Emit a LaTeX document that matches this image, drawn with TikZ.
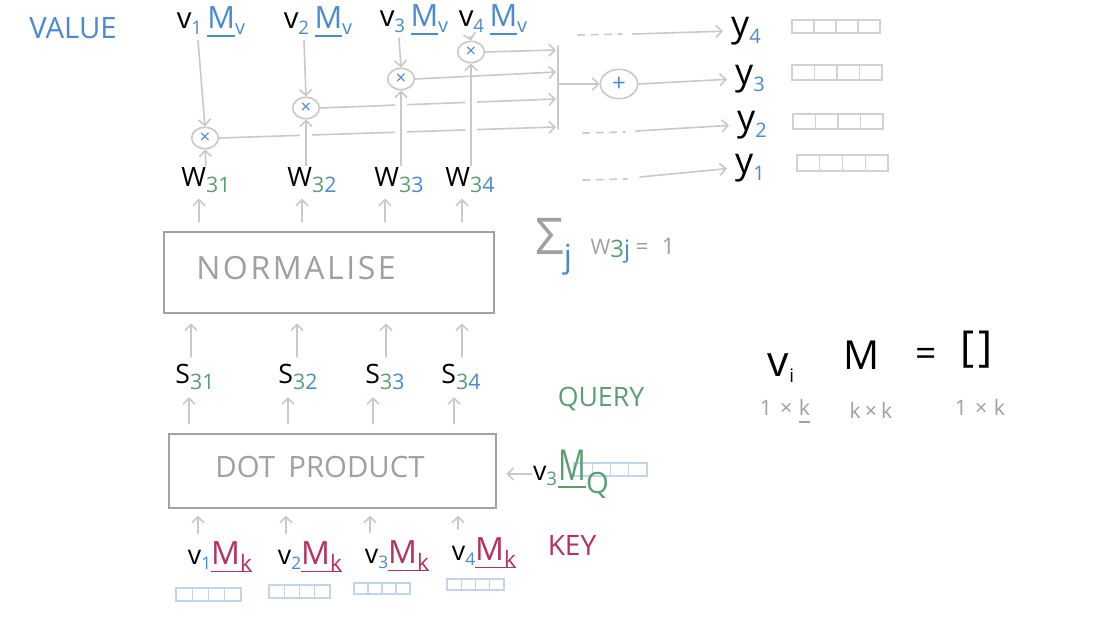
\documentclass[tikz,border=0pt]{standalone}
\usepackage{fontspec}
\setmainfont{Open Sans}
\newfontfamily\spaced[LetterSpace=8]{Open Sans}
\usetikzlibrary{arrows.meta,calc,shapes.geometric}
\definecolor{lg}{HTML}{C9C9C9}
\definecolor{bx}{HTML}{A2A2A2}
\definecolor{tb}{HTML}{4A8AD0}
\definecolor{tg}{HTML}{5A9E72}
\definecolor{tr}{HTML}{B8315D}
\definecolor{gt}{HTML}{A0A0A0}
\definecolor{cb}{HTML}{C3D5EA}
\definecolor{cg}{HTML}{D2D2D2}
\newcommand\fsz[1]{\fontsize{#1}{#1}\selectfont}
\newcommand\lsub[2]{\raisebox{-0.3em}{\color{#1}#2}}
\newcommand\ulc[1]{\setbox0\hbox{#1}\rlap{\raisebox{-6pt}{\rule{\wd0}{1.3pt}}}\box0}
\newcommand\vMv[1]{{\fsz{22}v}{\fsz{14}\lsub{tb}{#1}}\hspace{4pt}{\color{tb}\ulc{\fsz{23}M}{\fsz{15}\lsub{tb}{v}}}}
\newcommand\WS[3]{{\fsz{20}#1}{\fsz{16}\raisebox{-5pt}{\color{tg}3\color{#2}#3}}}
\newcommand\vMk[1]{{\fsz{20}v}{\fsz{13}\lsub{tb}{#1}}{\color{tr}\ulc{\fsz{24}M\fsz{17}\lsub{tr}{k}}}}
\newcommand\yl[1]{{\fsz{27}y}{\fsz{15}\raisebox{-0.35em}{\color{tb}#1}}}
\newcommand\cells[5]{%
  \draw[#5, line width=1pt] (#1,#2) rectangle ++(#3,#4);
  \foreach \k in {1,2,3} {\draw[#5, line width=1pt] (#1+#3*\k/4,#2) -- ++(0,#4);}}
\begin{document}
\begin{tikzpicture}[x=0.75pt,y=-0.75pt,
  ln/.style={draw=lg, line width=1.2pt, line cap=round},
  ar/.style={ln, -{Straight Barb[length=4.5pt,width=9pt,line width=1.2pt]}},
  gapped/.style={preaction={draw=white, line width=9pt, arrows=-, shorten <=10pt, shorten >=10pt}},
  mul/.style={ellipse, draw=lg, line width=1.2pt, minimum width=20pt, minimum height=16pt, inner sep=0pt, text=tb, font=\fsz{14}},
  blk/.style={draw=bx, line width=1.5pt, rectangle, inner sep=0pt},
  lab/.style={inner sep=1pt},
  gtxt/.style={inner sep=1pt, text=gt},
  dsh/.style={ln, dash pattern=on 5pt off 5pt},
]
\fill[white] (0,0) rectangle (1120,629);
\useasboundingbox (0,0) rectangle (1120,629);

% ---------- value row ----------
\node[lab, text=tb, font=\fsz{22}] (value) at (73,28) {VALUE};
\node[lab] (v1) at (211,22) {\vMv{1}};
\node[lab] (v2) at (318,22) {\vMv{2}};
\node[lab] (v3) at (414,20) {\vMv{3}};
\node[lab] (v4) at (493,20) {\vMv{4}};

\node[mul] (c1) at (205,138) {×};
\node[mul] (c2) at (306,108) {×};
\node[mul] (c3) at (401,79) {×};
\node[mul] (c4) at (471,52) {×};

\node[lab] (w1) at (206,180) {\WS{W}{tg}{1}};
\node[lab] (w2) at (312,180) {\WS{W}{tb}{2}};
\node[lab] (w3) at (399,180) {\WS{W}{tb}{3}};
\node[lab] (w4) at (470,180) {\WS{W}{tb}{4}};

\coordinate (b1) at (556,127);
\coordinate (b2) at (556,99);
\coordinate (b3) at (556,72);
\coordinate (b4) at (556,50);
\coordinate (btop) at (558,46);
\coordinate (bbot) at (558,129);
\coordinate (bmid) at (558,84);

\draw[ar] (c1.east) -- (b1);
\draw[ar] (c2.east) -- (b2);
\draw[ar] (c3.east) -- (b3);
\draw[ar] (c4.east) -- (b4);
\draw[ln] (btop) -- (bbot);

\draw[ar] ($(v1.south)+(-13,2)$) -- (c1.north);
\draw[ar] ($(v2.south)+(-14,2)$) -- (c2.north);
\draw[ar] ($(v3.south)+(-15,2)$) -- (c3.north);
\draw[ar] ($(v4.south)+(-23,0)$) -- (c4.north);

\draw[ar] (w1.north) -- (c1.south);
\draw[ar, gapped] (c2 |- w2.north) -- (c2.south);
\draw[ar, gapped] (c3 |- w3.north) -- (c3.south);
\draw[ar, gapped] (c4 |- w4.north) -- (c4.south);

\node[ellipse, draw=lg, line width=1.2pt, minimum width=28pt, minimum height=22pt, inner sep=0pt, text=tb, font=\fsz{18}] (pl) at (619,84) {+};
\draw[ar] (bmid) -- (pl.west);

% ---------- outputs ----------
\node[lab] (y4) at (746,31) {\yl{4}};
\node[lab] (y3) at (750,79) {\yl{3}};
\node[lab] (y2) at (752,125) {\yl{2}};
\node[lab] (y1) at (750,168) {\yl{1}};
\draw[ar, shorten >=5pt] (pl.east) -- (y3.west);

\coordinate (d4) at (578,35); \coordinate (e4) at (622,34); \coordinate (s4) at (633,34);
\coordinate (d2) at (583,133); \coordinate (e2) at (625,132); \coordinate (s2) at (636,131);
\coordinate (d1) at (583,180); \coordinate (e1) at (627,179); \coordinate (s1) at (640,177);
\draw[dsh] (d4) -- (e4);
\draw[dsh] (d2) -- (e2);
\draw[dsh] (d1) -- (e1);
\draw[ar, shorten >=5pt] (s4) -- (y4.west);
\draw[ar, shorten >=5pt] (s2) -- (y2.west);
\draw[ar, shorten >=5pt] (s1) -- (y1.west);

\cells{792}{20}{88}{13}{cg}
\cells{792}{65}{90}{15}{cg}
\cells{793}{114}{90}{15}{cg}
\cells{797}{155}{91}{16}{cg}

% ---------- normalise ----------
\node[blk, minimum width=247.5pt, minimum height=60.75pt] (norm) at (329,272.5) {};
\node[gtxt, font=\fsz{24}\spaced] (normt) at (296,268) {NORMALISE};

\path ($(w1.south)+(-7,0)$) coordinate (wa1);
\path ($(w2.south)+(-10,0)$) coordinate (wa2);
\path ($(w3.south)+(-14,0)$) coordinate (wa3);
\path ($(w4.south)+(-8,0)$) coordinate (wa4);
\foreach \i in {1,2,3,4} {\draw[ar, shorten <=7pt, shorten >=3pt] (wa\i |- norm.north) -- (wa\i);}

\node[lab] (sum) at (605,247) {{\fsz{38}\color{gt}Σ}{\fsz{24}\raisebox{-10pt}{\color{tb}j}}\hspace{14pt}{\fsz{16}\color{gt}W}{\fsz{18}\raisebox{-2pt}{\color{tg}3\color{tb}j}}\hspace{4pt}{\fsz{17}\color{gt}=\hspace{10pt}1}};

% ---------- scores ----------
\node[lab] (s31) at (195,377) {\WS{S}{tg}{1}};
\node[lab] (s32) at (298,377) {\WS{S}{tb}{2}};
\node[lab] (s33) at (385,377) {\WS{S}{tb}{3}};
\node[lab] (s34) at (461,377) {\WS{S}{tb}{4}};
\path ($(s31.north)+(-4,0)$) coordinate (sa1);
\path ($(s32.north)+(-1,0)$) coordinate (sa2);
\path ($(s33.north)+(1,0)$) coordinate (sa3);
\path ($(s34.north)+(1,0)$) coordinate (sa4);
\foreach \i in {1,2,3,4} {\draw[ar, shorten <=4pt, shorten >=7pt] (sa\i) -- (sa\i |- norm.south);}

% ---------- dot product ----------
\node[blk, minimum width=245.25pt, minimum height=55.5pt] (dot) at (332.5,471) {};
\node[gtxt, font=\fsz{22}] (dott) at (320,467) {DOT\hspace{10pt}PRODUCT};
\path ($(s31.south)+(-6,0)$) coordinate (da1);
\path ($(s32.south)+(-10,0)$) coordinate (da2);
\path ($(s33.south)+(-12,0)$) coordinate (da3);
\path ($(s34.south)+(-7,0)$) coordinate (da4);
\foreach \i in {1,2,3,4} {\draw[ar, shorten <=7pt, shorten >=4pt] (da\i |- dot.north) -- (da\i);}

% ---------- query ----------
\node[lab, text=tg, font=\fsz{20}] (query) at (601,399) {QUERY};
\cells{574}{463}{73}{13}{cb}
\node[lab] (q) at (571,474) {{\fsz{20}v}{\fsz{14}\lsub{tg}{3}}\hspace{1pt}{\color{tg}\ulc{\fsz{32}\scalebox{0.72}[1]{M}}\fsz{22}\raisebox{-0.45em}{Q}}};
\draw[ar, shorten >=7pt] (q.west) -- (q.west -| dot.east);

% ---------- keys ----------
\node[lab] (k1) at (220,557) {\vMk{1}};
\node[lab] (k2) at (310,557) {\vMk{2}};
\node[lab] (k3) at (397,556) {\vMk{3}};
\node[lab] (k4) at (484,553) {\vMk{4}};
\node[lab, text=tr, font=\fsz{21}] (key) at (572,545) {KEY};
\path ($(k1.north)+(-22,0)$) coordinate (ka1);
\path ($(k2.north)+(-24,0)$) coordinate (ka2);
\path ($(k3.north)+(-27,0)$) coordinate (ka3);
\path ($(k4.north)+(-26,0)$) coordinate (ka4);
\foreach \i in {1,2,3,4} {\draw[ar, shorten <=5pt, shorten >=5pt] (ka\i) -- (ka\i |- dot.south);}

\cells{176}{588}{65}{13}{cb}
\cells{269}{585}{61}{13}{cb}
\cells{354}{583}{56}{11}{cb}
\cells{447}{579}{57}{11}{cb}

% ---------- dimensions ----------
\node[lab] (vi) at (781,368) {{\fsz{32}v}{\fsz{14}\raisebox{-0.3em}{i}}};
\node[lab, font=\fsz{30}] (mm) at (862,355) {M};
\node[lab, font=\fsz{28}] (eq) at (926,357) {=};
\node[lab, font=\fsz{32}] (br) at (977,350) {[\hspace{3pt}]};
\node[gtxt, font=\fsz{16}] (dim1) at (785,411) {1\hspace{6pt}×\hspace{5pt}\ulc{k}};
\node[gtxt, font=\fsz{16}] (dim2) at (871,410) {k\hspace{3pt}×\hspace{3pt}k};
\node[gtxt, font=\fsz{16}] (dim3) at (980,407) {1\hspace{6pt}×\hspace{5pt}k};
\end{tikzpicture}
\end{document}
